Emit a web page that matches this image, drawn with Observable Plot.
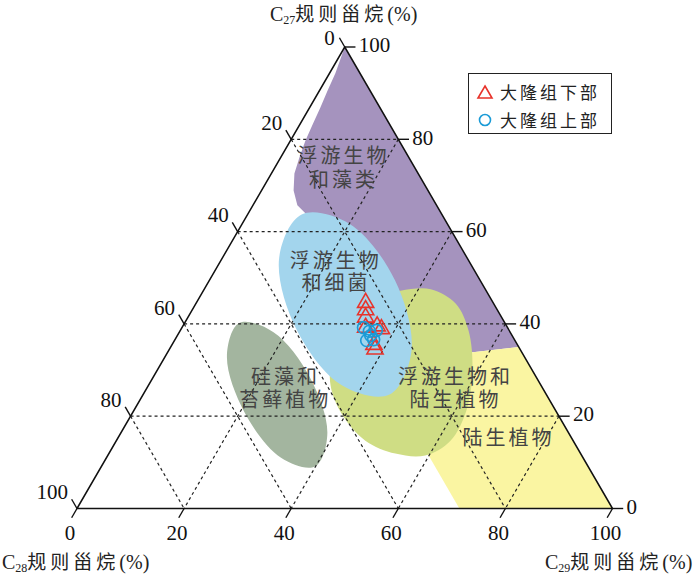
<!DOCTYPE html>
<html><head><meta charset="utf-8">
<script src="https://cdn.jsdelivr.net/npm/d3@7"></script>
<script src="https://cdn.jsdelivr.net/npm/@observablehq/plot@0.6"></script>
<style>
html,body{margin:0;padding:0;background:#fff;}
#wrap{position:relative;width:700px;height:574px;overflow:hidden;}
.title{position:absolute;font-family:"Liberation Serif",serif;font-size:20px;line-height:20px;height:22px;color:#222;white-space:nowrap;}
.title .zh{font-family:"Noto Sans CJK SC",sans-serif;letter-spacing:4px;font-size:19px;}
.title sub{font-size:12px;vertical-align:-3px;line-height:0;}
#legend{position:absolute;left:468px;top:73px;width:144px;height:61px;border:1.5px solid #222;box-sizing:border-box;background:#fff;}
#legend .row{position:absolute;left:0;height:24px;line-height:24px;font-family:"Noto Sans CJK SC",sans-serif;font-size:17px;letter-spacing:3px;color:#222;}
#legend svg{position:absolute;left:7px;top:4px;}
#legend span{position:absolute;left:31px;top:0;white-space:nowrap;}
g[font-family*="CJK"]{letter-spacing:3px;}
</style>
</head><body>
<div id="wrap"></div>
<script>
// ternary triples: [C27, C28, C29] (%)
const tickValues = [0, 20, 40, 60, 80, 100];
const gridValues = [20, 40, 60, 80];

const regionPlanktonAlgae = [ // 浮游生物和藻类
  [100,0,0],[35,0,65],[33.8,9.6,56.6],[38.6,12.8,48.6],[44.0,19.5,36.5],[55.9,21.0,23.1],
  [62.4,24.8,12.8],[65.7,26.0,8.3],[68.9,25.1,6.0],[72.6,23.1,4.3],[76.1,20.4,3.5],
  [79.7,17.5,2.8],[83.2,14.4,2.4],[86.9,11.1,2.0],[90.6,7.9,1.5],[94.3,4.6,1.1]
];
const regionLandPlants = [ // 陆生植物
  [33.8,9.6,56.6],[35,0,65],[0,0,100],[0,28.6,71.4],[12.6,28.6,58.8],[23.4,19.5,57.1]
];
const regionPlanktonLand = [ // 浮游生物和陆生植物
  [47.2,16.0,36.8],[47.5,10.2,42.3],[44.4,7.1,48.5],[38.6,7.6,53.8],[29.9,11.2,58.9],
  [21.2,16.7,62.1],[14.7,22.9,62.4],[11.5,29.2,59.3],[11.9,34.6,53.5],[14.7,38.8,46.5],
  [20.2,40.3,39.5],[26.7,39.3,34.0],[34.2,35.0,30.8],[41.8,27.1,31.1],[46.2,20.6,33.2]
];
const regionPlanktonBacteria = [ // 浮游生物和细菌
  [24.7,29.3,46.0],[34.1,20.5,45.4],[49.4,15.9,34.7],[61.7,18.3,20.0],
  [63.7,26.2,10.1],[54.3,35.1,10.6],[39.0,39.6,21.4],[26.7,37.2,36.1]
];
const regionDiatomMoss = [ // 硅藻和苔藓植物
  [9.1,51.0,39.9],[16.3,45.1,38.6],[28.4,42.3,29.3],[38.2,44.2,17.6],
  [40.2,49.6,10.2],[33.0,55.5,11.5],[20.9,58.3,20.8],[11.0,56.4,32.6]
];
// region label lines: [C27, C28, C29] centre of each line
const regionLabelLines = [
  {p:[76.3,12.1,11.6], text:"浮游生物"},
  {p:[71.1,14.7,14.2], text:"和藻类"},
  {p:[53.6,24.9,21.5], text:"浮游生物"},
  {p:[48.7,27.3,24.0], text:"和细菌"},
  {p:[28.3,46.9,24.8], text:"硅藻和"},
  {p:[23.4,49.4,27.2], text:"苔藓植物"},
  {p:[28.4,15.1,56.5], text:"浮游生物和"},
  {p:[23.4,17.6,59.0], text:"陆生植物"},
  {p:[15.2,11.8,73.0], text:"陆生植物"}
];
const lowerDalong = [ // 大隆组下部
  [44.6,23.8,31.6],[43.0,24.6,32.4],[41.4,25.4,33.2],[39.2,26.5,34.3],
  [39.5,24.2,36.3],[38.9,23.7,37.4],[35.5,26.8,37.7],[34.5,27.1,38.4]
];
const upperDalong = [ // 大隆组上部
  [39.2,26.9,33.9],[38.4,26.2,35.4],[38.6,24.8,36.6],[36.4,27.7,35.9],
  [36.6,26.3,37.1],[37.5,26.4,36.1]
];

const SQ = Math.sqrt(3) / 2;
const tx = p => p[2] + p[0] / 2;
const ty = p => p[0] * SQ;

const outline = [[100,0,0],[0,100,0],[0,0,100]];
const grid = gridValues.flatMap(v => [
  [[v,100-v,0],[v,0,100-v]],
  [[100-v,v,0],[0,v,100-v]],
  [[100-v,0,v],[0,100-v,v]]
]);
const tickLen = 2;
const tickSegs = tickValues.flatMap(v => [
  [[100-v,v,0],[100-v+tickLen,v,-tickLen]],
  [[v,0,100-v],[v,-tickLen,100-v+tickLen]],
  [[0,100-v,v],[-tickLen,100-v+tickLen,v]]
]);
const leftLab = tickValues.map(v => ({p:[100-v,v,0], t:String(v), v}));
const rightLab = tickValues.map(v => ({p:[v,0,100-v], t:String(v)}));
const bottomLab = tickValues.map(v => ({p:[0,100-v,v], t:String(v)}));

const link = {x1:d=>tx(d[0]), y1:d=>ty(d[0]), x2:d=>tx(d[1]), y2:d=>ty(d[1])};
const serif = "Liberation Serif";
const cjk = "Noto Sans CJK SC";

const chart = Plot.plot({
  width: 700, height: 574, margin: 0,
  style: {background: "#fff"},
  x: {domain: [0, 100], range: [76.5, 612], axis: null},
  y: {domain: [0, 100 * SQ], range: [508, 46.5], axis: null},
  marks: [
    Plot.line(regionPlanktonAlgae, {x: tx, y: ty, fill: "#a593be", stroke: "none", curve: "linear-closed"}),
    Plot.line(regionLandPlants, {x: tx, y: ty, fill: "#faf5a2", stroke: "none", curve: "linear-closed"}),
    Plot.line(regionPlanktonLand, {x: tx, y: ty, fill: "#cfdd84", stroke: "none", curve: "catmull-rom-closed"}),
    Plot.line(regionPlanktonBacteria, {x: tx, y: ty, fill: "#a3d5ed", stroke: "none", curve: "catmull-rom-closed"}),
    Plot.line(regionDiatomMoss, {x: tx, y: ty, fill: "#a3b59f", stroke: "none", curve: "catmull-rom-closed"}),
    Plot.link(grid, {...link, stroke: "#222", strokeWidth: 1.2, strokeDasharray: "3,3"}),
    Plot.line(outline, {x: tx, y: ty, stroke: "#111", strokeWidth: 1.5, fill: "none", curve: "linear-closed"}),
    Plot.link(tickSegs, {...link, stroke: "#111", strokeWidth: 1.4}),
    Plot.text(leftLab.filter(d => d.v > 0), {x: d=>tx(d.p), y: d=>ty(d.p), text: "t", textAnchor: "end", dx: -9, dy: -16, fontFamily: serif, fontSize: 21, fill: "#111"}),
    Plot.text(leftLab.filter(d => d.v === 0), {x: d=>tx(d.p), y: d=>ty(d.p), text: "t", textAnchor: "end", dx: -10, dy: -9, fontFamily: serif, fontSize: 21, fill: "#111"}),
    Plot.text(rightLab, {x: d=>tx(d.p), y: d=>ty(d.p), text: "t", textAnchor: "start", dx: 14, dy: -1.5, fontFamily: serif, fontSize: 21, fill: "#111"}),
    Plot.text(bottomLab, {x: d=>tx(d.p), y: d=>ty(d.p), text: "t", textAnchor: "middle", dx: -7, dy: 25, fontFamily: serif, fontSize: 21, fill: "#111"}),
    Plot.text(regionLabelLines, {x: d=>tx(d.p), y: d=>ty(d.p), text: "text", fontFamily: cjk, fontSize: 20, fill: "#444"}),
    Plot.dot(lowerDalong, {x: tx, y: ty, symbol: "triangle", r: 6, stroke: "#e8332b", fill: "none", strokeWidth: 1.6}),
    Plot.dot(upperDalong, {x: tx, y: ty, symbol: "circle", r: 6, stroke: "#1a9bd7", fill: "none", strokeWidth: 1.6})
  ]
});

const wrap = document.getElementById("wrap");
wrap.appendChild(chart);

function addTitle(sub, left, top) {
  const d = document.createElement("div");
  d.className = "title";
  d.style.left = left + "px";
  d.style.top = top + "px";
  d.innerHTML = 'C<sub>' + sub + '</sub><span class="zh">规则甾烷</span>(%)';
  wrap.appendChild(d);
}
addTitle("27", 270, 3);
addTitle("28", 2, 551);
addTitle("29", 545, 551);

const legend = document.createElement("div");
legend.id = "legend";
legend.innerHTML =
  '<div class="row" style="top:6px;width:100%"><svg width="18" height="16"><path d="M9,2 L16,14 L2,14 Z" fill="none" stroke="#e8332b" stroke-width="1.6"/></svg><span>大隆组下部</span></div>' +
  '<div class="row" style="top:34px;width:100%"><svg width="18" height="16"><circle cx="9" cy="8" r="5.5" fill="none" stroke="#1a9bd7" stroke-width="1.6"/></svg><span>大隆组上部</span></div>';
wrap.appendChild(legend);
</script>
</body></html>
